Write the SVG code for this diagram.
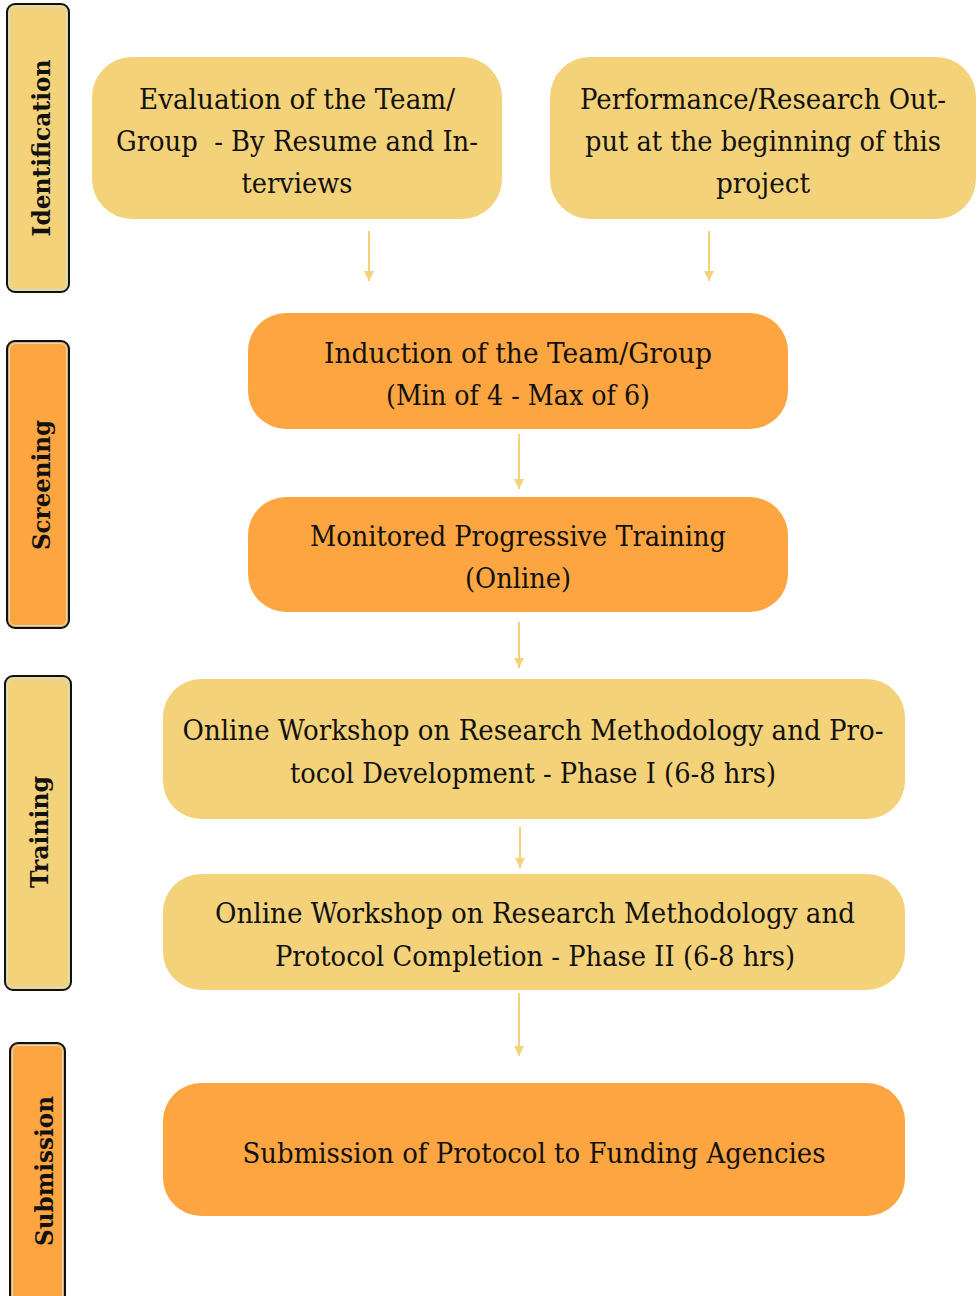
<svg xmlns="http://www.w3.org/2000/svg" width="979" height="1296" viewBox="0 0 979 1296">
<style>
.y{fill:#F4D27A}
.o{fill:#FDA541}
.t{font-family:"DejaVu Serif","Liberation Serif",serif;font-size:27px;fill:#111;text-anchor:middle;white-space:pre}
.s{font-family:"DejaVu Serif","Liberation Serif",serif;font-size:24px;font-weight:bold;fill:#111;text-anchor:middle}
.outer{stroke:#111;stroke-width:2}
.inner{fill:none;stroke:#BFE3F2;stroke-width:1}
.c{stroke:#F4D27A;stroke-width:2;fill:none;marker-end:url(#ah)}
</style>
<defs>
<marker id="ah" markerWidth="10" markerHeight="10" refX="10" refY="5" orient="auto" markerUnits="userSpaceOnUse" viewBox="0 0 10 10">
<path d="M0,0 L10,5 L0,10 Z" fill="#F4D27A"/>
</marker>
</defs>
<rect width="979" height="1296" fill="#fff"/>
<g id="lane-identification">
<rect class="y outer" x="7" y="4" width="62" height="288" rx="8"/>
<rect class="inner" x="9.5" y="6.5" width="57" height="283" rx="6"/>
<text class="s" transform="translate(50,148) rotate(-90)" textLength="177" lengthAdjust="spacingAndGlyphs">Identification</text>
</g>
<g id="lane-screening">
<rect class="o outer" x="7" y="341" width="62" height="287" rx="8"/>
<rect class="inner" x="9.5" y="343.5" width="57" height="282" rx="6"/>
<text class="s" transform="translate(50,485) rotate(-90)" textLength="130" lengthAdjust="spacingAndGlyphs">Screening</text>
</g>
<g id="lane-training">
<rect class="y outer" x="5" y="676" width="66" height="314" rx="8"/>
<rect class="inner" x="7.5" y="678.5" width="61" height="309" rx="6"/>
<text class="s" transform="translate(48,832) rotate(-90)" textLength="112" lengthAdjust="spacingAndGlyphs">Training</text>
</g>
<g id="lane-submission">
<rect class="o outer" x="10" y="1043" width="55" height="270" rx="8"/>
<rect class="inner" x="12.5" y="1045.5" width="50" height="265" rx="6"/>
<text class="s" transform="translate(53,1171) rotate(-90)" textLength="150" lengthAdjust="spacingAndGlyphs">Submission</text>
</g>
<g id="connectors">
<line class="c" x1="369" y1="231" x2="369" y2="281"/>
<line class="c" x1="709" y1="231" x2="709" y2="281"/>
<line class="c" x1="519" y1="434" x2="519" y2="489"/>
<line class="c" x1="519" y1="622" x2="519" y2="668"/>
<line class="c" x1="520" y1="827" x2="520" y2="868"/>
<line class="c" x1="519" y1="993" x2="519" y2="1056"/>
</g>
<g id="node-evaluation">
<rect class="y" x="92" y="57" width="410" height="162" rx="40"/>
<text class="t" x="297" y="109" textLength="316" lengthAdjust="spacingAndGlyphs">Evaluation of the Team/</text>
<text class="t" x="297" y="151" textLength="362" lengthAdjust="spacingAndGlyphs">Group  - By Resume and In-</text>
<text class="t" x="297" y="193" textLength="111" lengthAdjust="spacingAndGlyphs">terviews</text>
</g>
<g id="node-performance">
<rect class="y" x="550" y="57" width="426" height="162" rx="40"/>
<text class="t" x="763" y="109" textLength="366" lengthAdjust="spacingAndGlyphs">Performance/Research Out-</text>
<text class="t" x="763" y="151" textLength="356" lengthAdjust="spacingAndGlyphs">put at the beginning of this</text>
<text class="t" x="763" y="193" textLength="94" lengthAdjust="spacingAndGlyphs">project</text>
</g>
<g id="node-induction">
<rect class="o" x="248" y="313" width="540" height="116" rx="38"/>
<text class="t" x="518" y="363" textLength="388" lengthAdjust="spacingAndGlyphs">Induction of the Team/Group</text>
<text class="t" x="518" y="405" textLength="264" lengthAdjust="spacingAndGlyphs">(Min of 4 - Max of 6)</text>
</g>
<g id="node-monitored">
<rect class="o" x="248" y="497" width="540" height="115" rx="38"/>
<text class="t" x="518" y="546" textLength="416" lengthAdjust="spacingAndGlyphs">Monitored Progressive Training</text>
<text class="t" x="518" y="588" textLength="106" lengthAdjust="spacingAndGlyphs">(Online)</text>
</g>
<g id="node-workshop1">
<rect class="y" x="163" y="679" width="742" height="140" rx="38"/>
<text class="t" x="533" y="740" textLength="701" lengthAdjust="spacingAndGlyphs">Online Workshop on Research Methodology and Pro-</text>
<text class="t" x="533" y="783" textLength="486" lengthAdjust="spacingAndGlyphs">tocol Development - Phase I (6-8 hrs)</text>
</g>
<g id="node-workshop2">
<rect class="y" x="163" y="874" width="742" height="116" rx="38"/>
<text class="t" x="535" y="923" textLength="640" lengthAdjust="spacingAndGlyphs">Online Workshop on Research Methodology and</text>
<text class="t" x="535" y="966" textLength="520" lengthAdjust="spacingAndGlyphs">Protocol Completion - Phase II (6-8 hrs)</text>
</g>
<g id="node-submission">
<rect class="o" x="163" y="1083" width="742" height="133" rx="38"/>
<text class="t" x="534" y="1163" textLength="583" lengthAdjust="spacingAndGlyphs">Submission of Protocol to Funding Agencies</text>
</g>
</svg>
